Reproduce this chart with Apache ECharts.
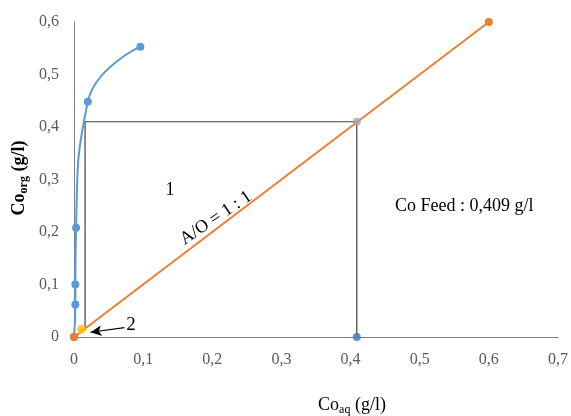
<!DOCTYPE html>
<html><head><meta charset="utf-8">
<script src="https://cdn.jsdelivr.net/npm/echarts@6/dist/echarts.min.js"></script>
<style>html,body{margin:0;padding:0;background:#fff}#c{width:571px;height:416px}</style>
</head><body><div id="c"></div>
<script>
// Equilibrium curve (Co_aq, Co_org)
const equilibriumX = [0, 0.002, 0.002, 0.003, 0.02, 0.096];
const equilibriumY = [0, 0.062, 0.100, 0.208, 0.448, 0.553];
// Operating line A/O = 1:1
const operatingX = [0, 0.6];
const operatingY = [0, 0.6];
// McCabe-Thiele steps
const stepsX = [0.409, 0.409, 0.016, 0.016, 0.010];
const stepsY = [0, 0.410, 0.410, 0.014, 0.014];
// Highlighted points
const feedPoint = [0.409, 0.410];
const feedAxisPoint = [0.409, 0];
const stage2Point = [0.011, 0.015];
const arrowFrom = [0.073, 0.018];
const arrowTo = [0.024, 0.009];
const xTicks = [0, 0.1, 0.2, 0.3, 0.4, 0.5, 0.6, 0.7];
const yTicks = [0, 0.1, 0.2, 0.3, 0.4, 0.5, 0.6];

const zip = (a, b) => a.map((v, i) => [v, b[i]]);
const fmt = v => String(Math.round(v * 10) / 10).replace('.', ',');
const serif = 'Liberation Serif';

const chart = echarts.init(document.getElementById('c'));
chart.setOption({
  animation: false,
  grid: { left: 74, right: 11, top: 22, bottom: 79 },
  xAxis: {
    type: 'value', min: 0, max: 0.7, interval: 0.1,
    axisLine: { lineStyle: { color: '#7f7f7f', width: 1 } },
    axisTick: { show: false }, splitLine: { show: false },
    axisLabel: { formatter: fmt, color: '#595959', fontFamily: serif, fontSize: 16, margin: 15 }
  },
  yAxis: {
    type: 'value', min: 0, max: 0.6, interval: 0.1,
    axisLine: { show: true, lineStyle: { color: '#7f7f7f', width: 1 } },
    axisTick: { show: false }, splitLine: { show: false },
    axisLabel: { formatter: fmt, color: '#595959', fontFamily: serif, fontSize: 16, margin: 15 }
  },
  series: [
    {
      type: 'line', data: zip(stepsX, stepsY), symbol: 'none', z: 1,
      lineStyle: { color: '#404040', width: 1.2 }
    },
    {
      type: 'line', data: zip(equilibriumX, equilibriumY), smooth: 0.5,
      symbol: 'circle', symbolSize: 8, z: 3,
      lineStyle: { color: '#5b9bd5', width: 2 }, itemStyle: { color: '#5b9bd5' }
    },
    {
      type: 'line', data: zip(operatingX, operatingY),
      symbol: 'circle', symbolSize: 8, z: 4,
      lineStyle: { color: '#ed7d31', width: 2 }, itemStyle: { color: '#ed7d31' },
      markLine: {
        silent: true, symbol: ['none', 'arrow'], symbolSize: [8, 11],
        lineStyle: { color: '#000', width: 1.2, type: 'solid' }, label: { show: false },
        data: [[{ coord: arrowFrom }, { coord: arrowTo }]]
      }
    },
    { type: 'scatter', data: [feedPoint], symbolSize: 8, itemStyle: { color: '#a5a5a5' }, z: 5 },
    { type: 'scatter', data: [feedAxisPoint], symbolSize: 8, itemStyle: { color: '#4472c4' }, z: 5 },
    { type: 'scatter', data: [stage2Point], symbolSize: 9, itemStyle: { color: '#ffc000' }, z: 5 }
  ],
  graphic: [
    { type: 'text', x: 170, y: 190, style: { text: '1', font: '18px "Liberation Serif"', fill: '#000', align: 'center', verticalAlign: 'middle' } },
    { type: 'text', x: 131, y: 325, style: { text: '2', font: '19px "Liberation Serif"', fill: '#000', align: 'center', verticalAlign: 'middle' } },
    { type: 'text', x: 216, y: 218, rotation: 34 * Math.PI / 180,
      style: { text: 'A/O = 1 : 1', font: '18px "Liberation Serif"', fill: '#000', align: 'center', verticalAlign: 'middle' } },
    { type: 'text', x: 395, y: 206, style: { text: 'Co Feed : 0,409 g/l', font: '18px "Liberation Serif"', fill: '#000', verticalAlign: 'middle' } },
    { type: 'text', x: 352, y: 405,
      style: { text: '{m|Co}{s|aq}{m| (g/l)}', align: 'center', verticalAlign: 'middle',
        rich: { m: { fontFamily: serif, fontSize: 18, lineHeight: 22, fill: '#000' },
                s: { fontFamily: serif, fontSize: 12, lineHeight: 13, verticalAlign: 'bottom', fill: '#000' } } } },
    { type: 'text', x: 19, y: 178, rotation: Math.PI / 2,
      style: { text: '{m|Co}{s|org}{m| (g/l)}', align: 'center', verticalAlign: 'middle',
        rich: { m: { fontFamily: serif, fontSize: 18, fontWeight: 'bold', lineHeight: 22, fill: '#000' },
                s: { fontFamily: serif, fontSize: 12, fontWeight: 'bold', lineHeight: 13, verticalAlign: 'bottom', fill: '#000' } } } }
  ]
});
</script></body></html>
